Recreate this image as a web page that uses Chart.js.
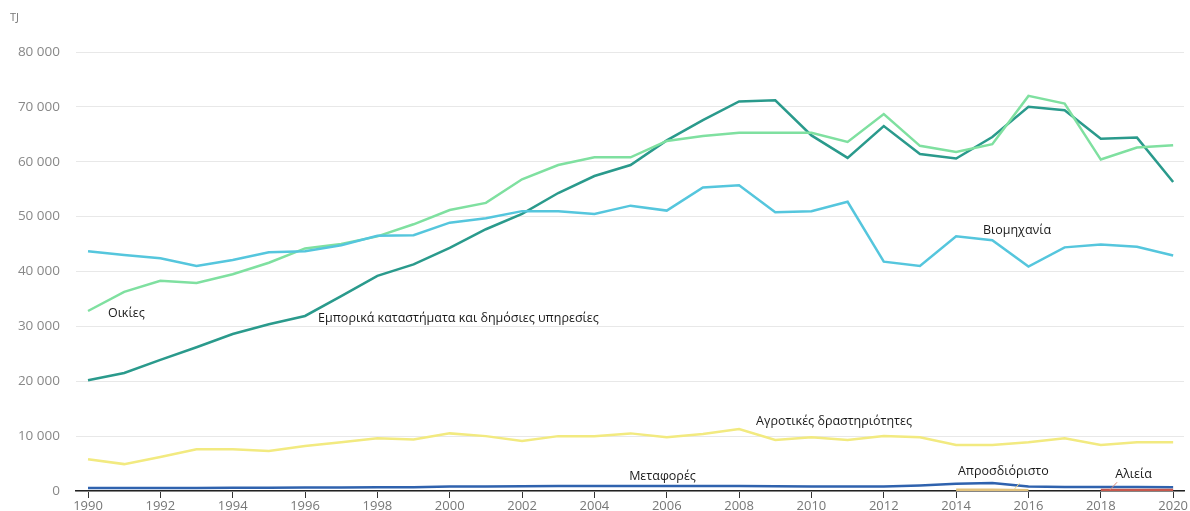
<!DOCTYPE html>
<html lang="el">
<head>
<meta charset="utf-8">
<title>Κατανάλωση ηλεκτρικής ενέργειας ανά τομέα (TJ)</title>
<script src="https://cdn.jsdelivr.net/npm/chart.js@4.4.1/dist/chart.umd.min.js"></script>
<style>
    html, body { margin: 0; padding: 0; background: #fff; }
    #wrap { position: relative; width: 1190px; height: 511px; }
    #unit { position: absolute; left: 10px; top: 9px; font: 11px "Open Sans", sans-serif; color: #777; }
</style>
</head>
<body>
<div id="wrap">
    <div id="unit">TJ</div>
    <canvas id="chart" width="1190" height="511"></canvas>
</div>
<script>
// Έτη (άξονας x)
const years = [1990, 1991, 1992, 1993, 1994, 1995, 1996, 1997, 1998, 1999,
               2000, 2001, 2002, 2003, 2004, 2005, 2006, 2007, 2008, 2009,
               2010, 2011, 2012, 2013, 2014, 2015, 2016, 2017, 2018, 2019, 2020];
const xTicks = [1990, 1992, 1994, 1996, 1998, 2000, 2002, 2004, 2006, 2008,
                2010, 2012, 2014, 2016, 2018, 2020];
const yTicks = [0, 10000, 20000, 30000, 40000, 50000, 60000, 70000, 80000];

// Σειρές (TJ)
const viomichania = [43700, 43000, 42400, 41000, 42100, 43500, 43700, 44800, 46500, 46600,
                     48900, 49700, 51000, 51000, 50500, 52000, 51100, 55300, 55700, 50800,
                     51000, 52700, 41800, 41000, 46400, 45700, 40900, 44400, 44900, 44500, 42900];
const emporika = [20200, 21500, 23900, 26200, 28600, 30400, 31900, 35500, 39200, 41300,
                  44300, 47700, 50500, 54300, 57400, 59400, 63900, 67600, 71000, 71200,
                  64800, 60700, 66500, 61400, 60600, 64500, 70000, 69400, 64200, 64400, 56300];
const oikies = [32800, 36300, 38300, 37900, 39500, 41600, 44200, 45000, 46400, 48600,
                51200, 52500, 56800, 59400, 60800, 60800, 63800, 64700, 65300, 65300,
                65300, 63600, 68700, 62900, 61800, 63200, 72000, 70600, 60400, 62600, 63000];
const agrotikes = [5800, 4900, 6200, 7600, 7600, 7300, 8200, 8900, 9600, 9400,
                   10500, 10000, 9100, 10000, 10000, 10500, 9800, 10400, 11300, 9300,
                   9800, 9300, 10000, 9800, 8400, 8400, 8900, 9600, 8400, 8900, 8900];
const metafores = [550, 550, 550, 550, 600, 600, 650, 650, 700, 700,
                   800, 800, 850, 900, 900, 900, 900, 900, 900, 850,
                   800, 800, 800, 1000, 1300, 1450, 800, 750, 750, 750, 700];
const aprosdioristo = [null, null, null, null, null, null, null, null, null, null,
                       null, null, null, null, null, null, null, null, null, null,
                       null, null, null, null, 250, 250, 150, null, null, null, null];
const alieia = [null, null, null, null, null, null, null, null, null, null,
                null, null, null, null, null, null, null, null, null, null,
                null, null, null, null, null, null, null, null, 200, 200, 200];

// Ετικέτες σειρών πάνω στο διάγραμμα (έτος, τιμή)
const seriesLabels = [
    { text: 'Οικίες', x: 1990.55, y: 32400 },
    { text: 'Εμπορικά καταστήματα και δημόσιες υπηρεσίες', x: 1996.36, y: 31500 },
    { text: 'Βιομηχανία', x: 2014.74, y: 47500 },
    { text: 'Αγροτικές δραστηριότητες', x: 2008.47, y: 12750 },
    { text: 'Μεταφορές', x: 2004.96, y: 2730 },
    { text: 'Απροσδιόριστο', x: 2014.05, y: 3640 },
    { text: 'Αλιεία', x: 2018.4, y: 3100 }
];

const FONT = '"Open Sans", "Noto Sans", sans-serif';

function toPoints(values) {
    return years.map((yr, i) => ({ x: yr, y: values[i] }));
}

function formatThousands(v) {
    return String(v).replace(/\B(?=(\d{3})+(?!\d))/g, ' ');
}

function line(label, values, color) {
    return {
        label: label,
        data: toPoints(values),
        borderColor: color,
        backgroundColor: color,
        borderWidth: 2.5,
        pointRadius: 0,
        tension: 0,
        spanGaps: false
    };
}

// Ετικέτες κειμένου + μικρές γραμμές οδηγοί
const labelPlugin = {
    id: 'seriesLabels',
    afterDatasetsDraw(chart) {
        const { ctx, scales: { x, y } } = chart;
        ctx.save();
        ctx.font = '12.5px ' + FONT;
        ctx.fillStyle = '#1a1a1a';
        ctx.textBaseline = 'middle';
        ctx.textAlign = 'left';
        seriesLabels.forEach(l => {
            ctx.fillText(l.text, x.getPixelForValue(l.x), y.getPixelForValue(l.y));
        });

        // οδηγός για Αλιεία
        ctx.lineWidth = 1;
        ctx.strokeStyle = '#d98b7a';
        ctx.beginPath();
        ctx.moveTo(x.getPixelForValue(2018.45), y.getPixelForValue(1600));
        ctx.lineTo(x.getPixelForValue(2018.25), y.getPixelForValue(200));
        ctx.stroke();
        // οδηγός για Απροσδιόριστο
        ctx.strokeStyle = '#e6cf8a';
        ctx.beginPath();
        ctx.moveTo(x.getPixelForValue(2015.75), y.getPixelForValue(1400));
        ctx.lineTo(x.getPixelForValue(2015.6), y.getPixelForValue(250));
        ctx.stroke();
        ctx.restore();
    }
};

new Chart(document.getElementById('chart').getContext('2d'), {
    type: 'line',
    data: {
        datasets: [
            line('Αλιεία', alieia, '#c8584c'),
            line('Απροσδιόριστο', aprosdioristo, '#e2c27c'),
            line('Μεταφορές', metafores, '#2f62ae'),
            line('Αγροτικές δραστηριότητες', agrotikes, '#f2ea80'),
            line('Βιομηχανία', viomichania, '#55c6dd'),
            line('Οικίες', oikies, '#7fe0a0'),
            line('Εμπορικά καταστήματα και δημόσιες υπηρεσίες', emporika, '#2a9a8c')
        ]
    },
    options: {
        responsive: false,
        animation: false,
        layout: {
            padding: { top: 52, right: 6, left: 0, bottom: 0 }
        },
        plugins: {
            legend: { display: false },
            tooltip: { enabled: false }
        },
        scales: {
            x: {
                type: 'linear',
                min: 1989.668,
                max: 2020.3,
                afterBuildTicks: scale => {
                    scale.ticks = xTicks.map(v => ({ value: v }));
                },
                afterFit: scale => { scale.height = 20; },
                ticks: {
                    autoSkip: false,
                    maxRotation: 0,
                    padding: 0,
                    color: '#777',
                    font: { family: FONT, size: 13 },
                    callback: v => String(v)
                },
                grid: {
                    drawOnChartArea: false,
                    drawTicks: true,
                    tickLength: 7,
                    tickColor: '#333',
                    tickWidth: 1
                },
                border: { display: true, color: '#222', width: 1.5 }
            },
            y: {
                min: 0,
                max: 80000,
                afterBuildTicks: scale => {
                    scale.ticks = yTicks.map(v => ({ value: v }));
                },
                afterFit: scale => {
                    scale.width = 76;
                    // keep the tick padding from pushing the chart area up
                    scale.paddingTop = 0;
                    scale.paddingBottom = 0;
                },
                ticks: {
                    padding: 16,
                    color: '#888',
                    font: { family: FONT, size: 13.5 },
                    callback: v => formatThousands(v)
                },
                grid: {
                    color: '#e8e8e8',
                    lineWidth: 1,
                    drawTicks: false
                },
                border: { display: false }
            }
        }
    },
    plugins: [labelPlugin]
});
</script>
</body>
</html>
